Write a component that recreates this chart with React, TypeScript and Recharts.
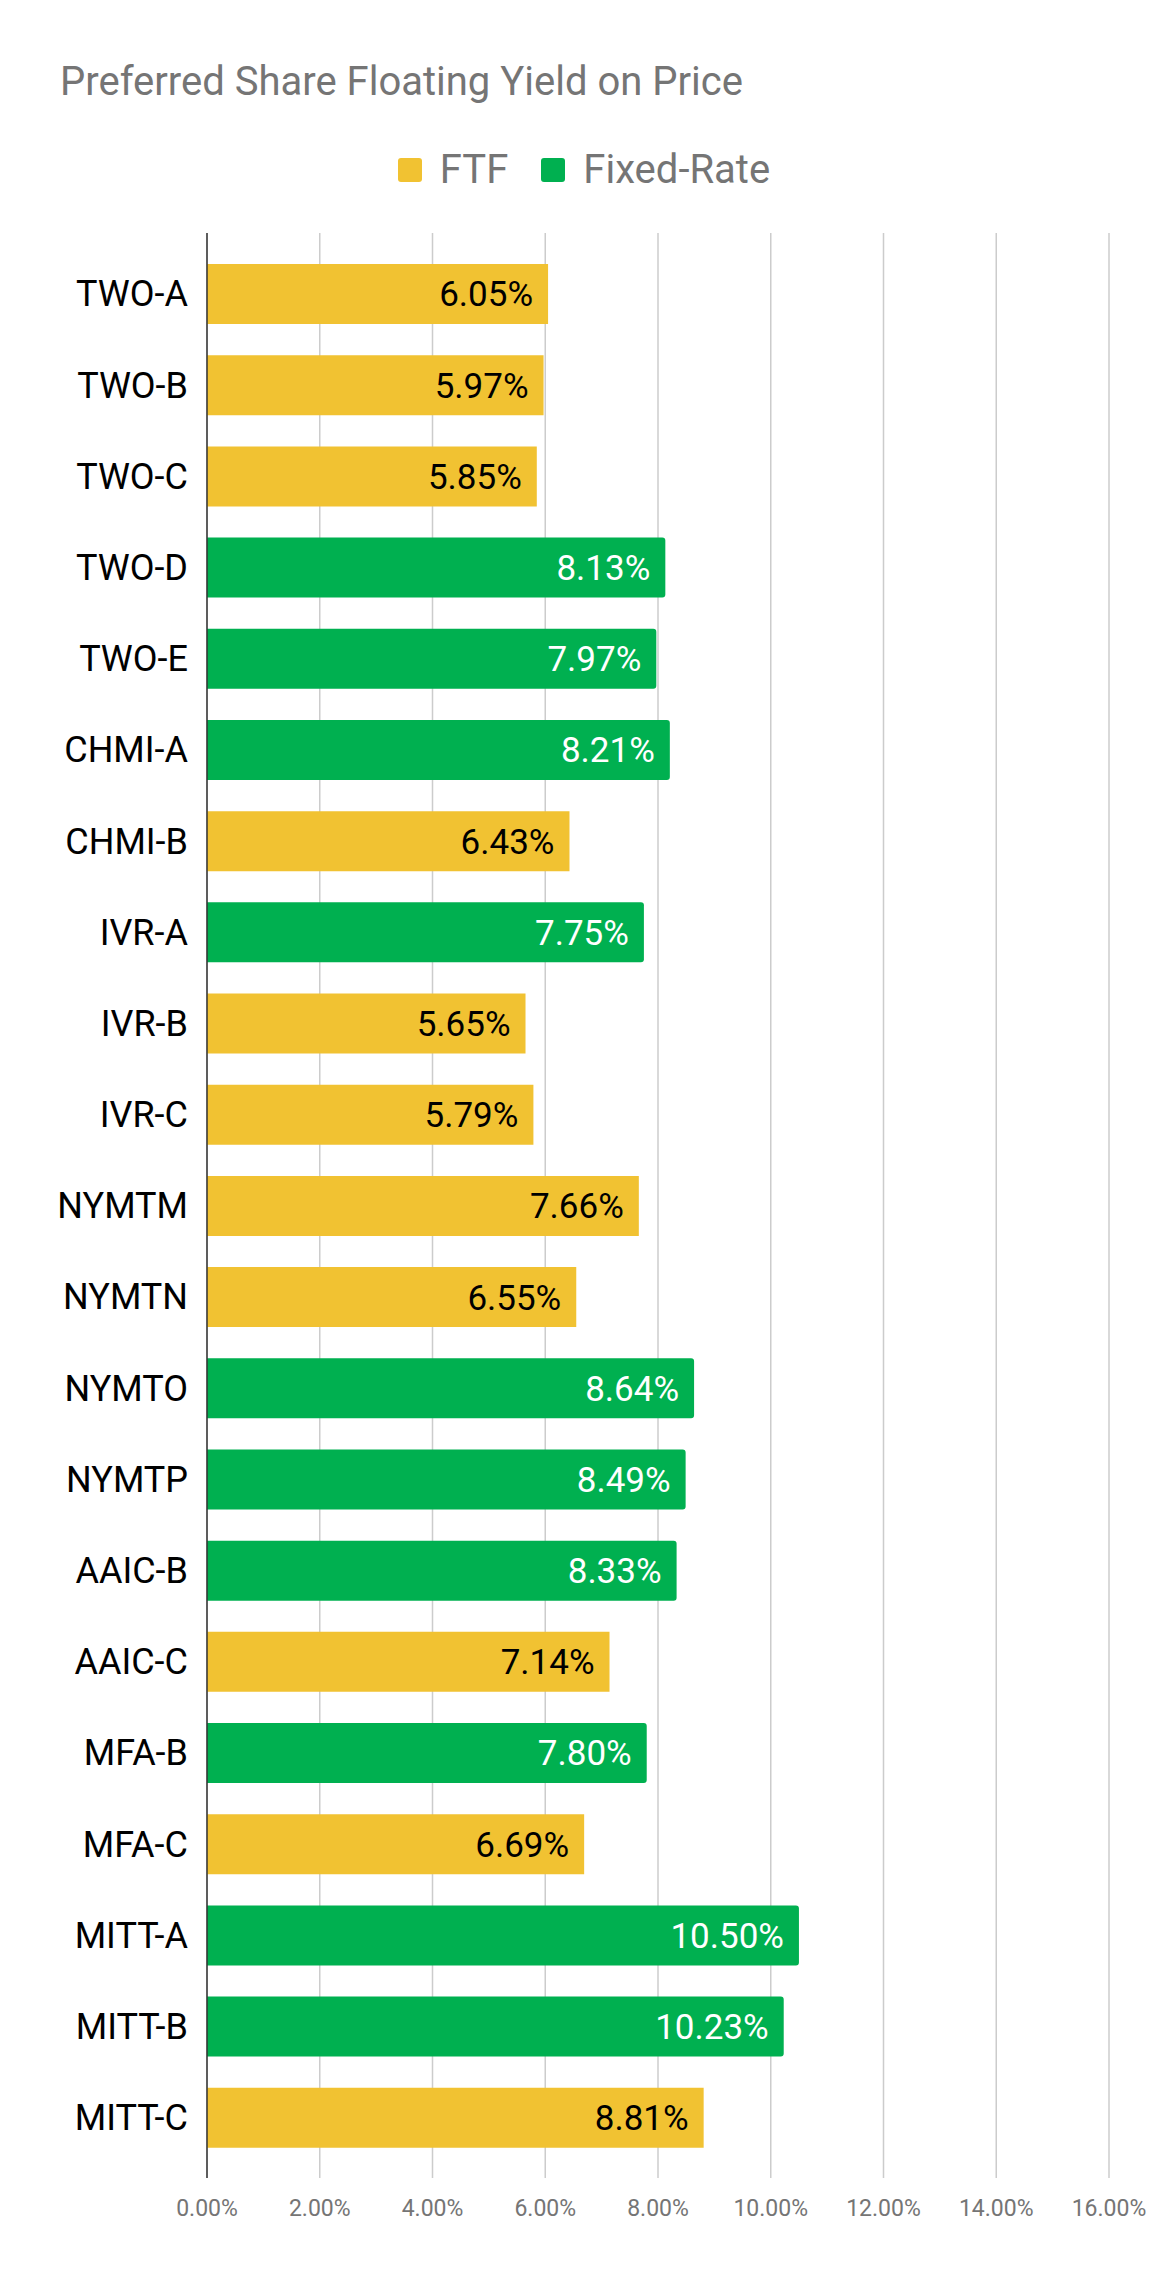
import { BarChart, Bar, XAxis, YAxis, CartesianGrid, Legend, LabelList } from "recharts";

const categories = [
	"TWO-A", "TWO-B", "TWO-C", "TWO-D", "TWO-E", "CHMI-A", "CHMI-B",
	"IVR-A", "IVR-B", "IVR-C", "NYMTM", "NYMTN", "NYMTO", "NYMTP",
	"AAIC-B", "AAIC-C", "MFA-B", "MFA-C", "MITT-A", "MITT-B", "MITT-C",
];
const ftfValues = [6.05, 5.97, 5.85, null, null, null, 6.43, null, 5.65, 5.79, 7.66, 6.55, null, null, null, 7.14, null, 6.69, null, null, 8.81];
const fixedValues = [null, null, null, 8.13, 7.97, 8.21, null, 7.75, null, null, null, null, 8.64, 8.49, 8.33, null, 7.8, null, 10.5, 10.23, null];
const xTicks = [0, 2, 4, 6, 8, 10, 12, 14, 16];

const data = categories.map((name, i) => ({
	name,
	ftf: ftfValues[i],
	fixed: fixedValues[i],
}));

const pct = (v: any) => (v == null ? "" : `${Number(v).toFixed(2)}%`);

function LegendRow({ payload }: any) {
	return (
		<div style={{ display: "flex", justifyContent: "center", alignItems: "center", lineHeight: "40px", height: 40 }}>
			{(payload || []).map((item: any, i: number) => (
				<div key={item.value} style={{ display: "flex", alignItems: "center", marginLeft: i ? 33 : 0 }}>
					<span style={{ width: 24, height: 24, borderRadius: 3, background: item.color, display: "inline-block", marginRight: 18 }} />
					<span style={{ fontSize: 40, color: "#757575" }}>{item.value}</span>
				</div>
			))}
		</div>
	);
}

export default function App() {
	return (
		<div style={{ position: "absolute", left: 0, top: 0, width: 1168, height: 2280, background: "#fff", fontFamily: "Roboto" }}>
			<div style={{ position: "absolute", left: 60, top: 62, fontSize: 40, lineHeight: "40px", color: "#757575", whiteSpace: "nowrap", zIndex: 1 }}>
				Preferred Share Floating Yield on Price
			</div>
			<BarChart
				width={1168}
				height={2280}
				data={data}
				layout="vertical"
				margin={{ top: 233, right: 59, bottom: 62, left: 0 }}
			>
				<CartesianGrid horizontal={false} stroke="#cccccc" strokeWidth={1.5} />
				<XAxis
					type="number"
					domain={[0, 16]}
					ticks={xTicks}
					tickFormatter={pct}
					axisLine={false}
					tickLine={false}
					tickSize={0}
					tickMargin={22}
					height={40}
					tick={{ fill: "#757575", fontSize: 23 }}
				/>
				<YAxis
					type="category"
					dataKey="name"
					width={207}
					padding={{ top: 15, bottom: 15 }}
					tickLine={false}
					tickSize={0}
					tickMargin={19}
					axisLine={{ stroke: "#333333", strokeWidth: 1.5 }}
					tick={{ fill: "#000000", fontSize: 36 }}
					interval={0}
				/>
				<Legend
					layout="horizontal"
					verticalAlign="middle"
					align="center"
					content={<LegendRow />}
					wrapperStyle={{ position: "absolute", top: 150, left: 0, width: 1168, height: 40 }}
				/>
				<Bar dataKey="ftf" name="FTF" stackId="s" fill="#F1C232" barSize={60} isAnimationActive={false}>
					<LabelList dataKey="ftf" position="insideRight" offset={15} formatter={pct} fill="#000000" fontSize={35} />
				</Bar>
				<Bar dataKey="fixed" name="Fixed-Rate" stackId="s" fill="#00B050" barSize={60} radius={[0, 3, 3, 0]} isAnimationActive={false}>
					<LabelList dataKey="fixed" position="insideRight" offset={15} formatter={pct} fill="#ffffff" fontSize={35} />
				</Bar>
			</BarChart>
		</div>
	);
}
